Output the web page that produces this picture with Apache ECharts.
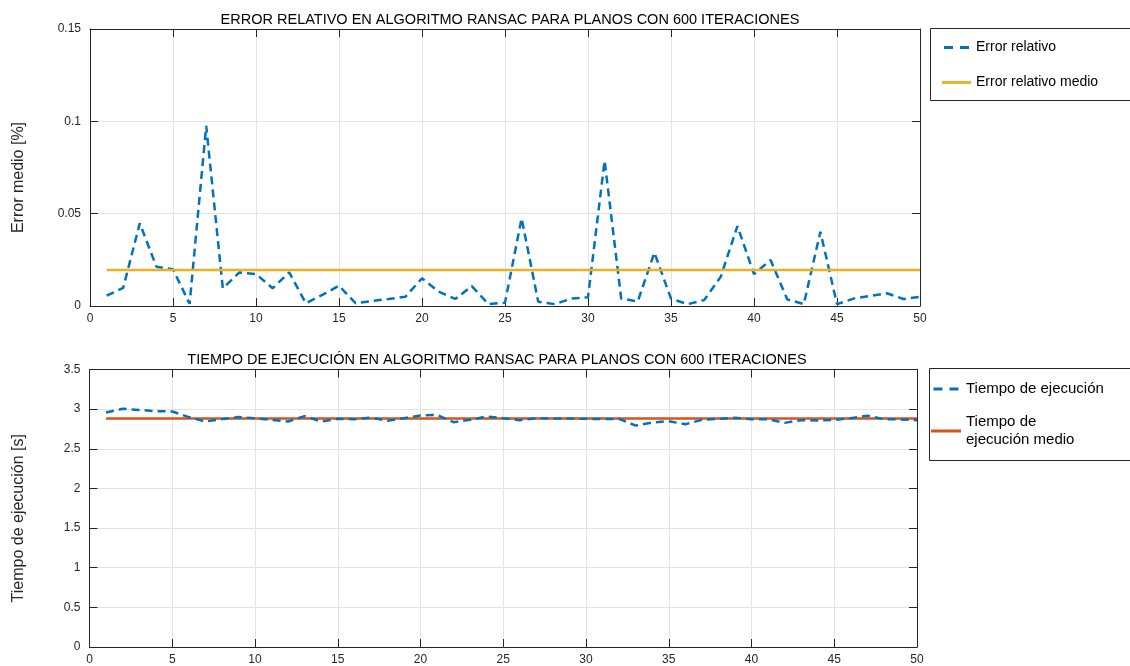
<!DOCTYPE html>
<html>
<head>
<meta charset="utf-8">
<script src="https://cdn.jsdelivr.net/npm/echarts@6/dist/echarts.min.js"></script>
<style>
html,body{margin:0;padding:0;background:#fff;}
#c{width:1130px;height:666px;}
</style>
</head>
<body>
<div id="c"></div>
<script>
// ---- data ----
const iterations = [1,2,3,4,5,6,7,8,9,10,11,12,13,14,15,16,17,18,19,20,21,22,23,24,25,26,27,28,29,30,31,32,33,34,35,36,37,38,39,40,41,42,43,44,45,46,47,48,49,50];
const errorRelativo = [0.0056,0.0098,0.0448,0.0213,0.0199,0.0012,0.0975,0.0096,0.0182,0.0173,0.0096,0.0182,0.0015,0.0060,0.0110,0.0015,0.0027,0.0038,0.0050,0.0150,0.0078,0.0038,0.0108,0.0010,0.0018,0.0475,0.0023,0.0010,0.0040,0.0047,0.0787,0.0040,0.0025,0.0289,0.0040,0.0010,0.0032,0.0159,0.0433,0.0173,0.0249,0.0036,0.0010,0.0402,0.0010,0.0040,0.0055,0.0069,0.0038,0.0050];
const errorMedio = 0.0195;
const tiempoEjecucion = [2.957,3.004,2.990,2.975,2.970,2.900,2.844,2.874,2.900,2.886,2.865,2.844,2.912,2.844,2.878,2.874,2.894,2.853,2.886,2.920,2.928,2.836,2.865,2.907,2.886,2.861,2.886,2.882,2.882,2.878,2.874,2.878,2.793,2.831,2.848,2.810,2.865,2.878,2.890,2.874,2.874,2.827,2.861,2.857,2.865,2.886,2.916,2.874,2.870,2.861];
const tiempoMedio = 2.882;
const xTicks = {min:0, max:50, interval:5};
const yTopTicks = {min:0, max:0.15, interval:0.05};
const yBotTicks = {min:0, max:3.5, interval:0.5};
const titles = ['ERROR RELATIVO EN ALGORITMO RANSAC PARA PLANOS CON 600 ITERACIONES','TIEMPO DE EJECUCIÓN EN ALGORITMO RANSAC PARA PLANOS CON 600 ITERACIONES'];
const yNames = ['Error medio [%]','Tiempo de ejecución [s]'];
const seriesNames = ['Error relativo','Error relativo medio','Tiempo de ejecución','Tiempo de ejecución medio'];

// ---- styles ----
const FONT = '"Liberation Sans", Arial, Helvetica, sans-serif';
const AX = '#262626';
const GRIDC = '#e3e3e3';
const BLUE = '#0072BD', YEL = '#EDB120', RED = '#D95319';
const ICON_DASH = 'path://M0,0h9v3h-9zM16,0h9v3h-9z';
const ICON_SOLID = 'path://M0,0h30v3h-30z';

function pairs(xs, ys){ return xs.map((x,i)=>[x, ys[i]]); }
function constLine(xs, v){ return [[xs[0], v],[xs[xs.length-1], v]]; }

function xAxisPair(gi){
  return [
    {type:'value', gridIndex:gi, position:'bottom', min:xTicks.min, max:xTicks.max, interval:xTicks.interval,
     axisLine:{show:true, lineStyle:{color:AX, width:1}},
     axisTick:{show:true, inside:true, length:8, lineStyle:{color:AX}},
     axisLabel:{show:true, color:AX, fontFamily:FONT, fontSize:12, margin:7},
     splitLine:{show:true, lineStyle:{color:GRIDC, width:1}}},
    {type:'value', gridIndex:gi, position:'top', min:xTicks.min, max:xTicks.max, interval:xTicks.interval,
     axisLine:{show:true, onZero:false, lineStyle:{color:AX, width:1}},
     axisTick:{show:true, inside:true, length:8, lineStyle:{color:AX}},
     axisLabel:{show:false}, splitLine:{show:false}}
  ];
}
function yAxisPair(gi, t, name, fmt){
  return [
    {type:'value', gridIndex:gi, position:'left', min:t.min, max:t.max, interval:t.interval,
     name:name, nameLocation:'middle', nameGap:63, nameRotate:90,
     nameTextStyle:{color:AX, fontFamily:FONT, fontSize:16, padding:[0,20,0,0]},
     axisLine:{show:true, onZero:false, lineStyle:{color:AX, width:1}},
     axisTick:{show:true, inside:true, length:8, lineStyle:{color:AX}},
     axisLabel:{show:true, color:AX, fontFamily:FONT, fontSize:12, margin:9, formatter:fmt},
     splitLine:{show:true, lineStyle:{color:GRIDC, width:1}}},
    {type:'value', gridIndex:gi, position:'right', min:t.min, max:t.max, interval:t.interval,
     axisLine:{show:true, onZero:false, lineStyle:{color:AX, width:1}},
     axisTick:{show:true, inside:true, length:8, lineStyle:{color:AX}},
     axisLabel:{show:false}, splitLine:{show:false}}
  ];
}
const fmtNum = v => String(+v.toFixed(3));

const chart = echarts.init(document.getElementById('c'), null, {renderer:'canvas'});
const option = {
  backgroundColor:'#fff',
  animation:false,
  title:[
    {text:titles[0], left:505, top:7, textAlign:'center',
     textStyle:{fontFamily:FONT, fontSize:14.5, fontWeight:'normal', color:'#000'}},
    {text:titles[1], left:492, top:347, textAlign:'center',
     textStyle:{fontFamily:FONT, fontSize:14.5, fontWeight:'normal', color:'#000'}}
  ],
  grid:[
    {left:90, top:29, width:830, height:277},
    {left:89.5, top:369.5, width:827.5, height:277.5}
  ],
  xAxis:[...xAxisPair(0), ...xAxisPair(1)],
  yAxis:[...yAxisPair(0, yTopTicks, yNames[0], fmtNum), ...yAxisPair(1, yBotTicks, yNames[1], fmtNum)],
  legend:[
    {orient:'vertical', left:937, top:34, itemWidth:29, itemHeight:3, itemGap:18,
     data:[{name:seriesNames[0], icon:ICON_DASH}, {name:seriesNames[1], icon:ICON_SOLID}],
     textStyle:{fontFamily:FONT, fontSize:14, color:'#000', lineHeight:17}},
    {orient:'vertical', left:926, top:375, itemWidth:30, itemHeight:3, itemGap:15,
     data:[{name:seriesNames[2], icon:ICON_DASH}, {name:seriesNames[3], icon:ICON_SOLID}],
     formatter: n => n === seriesNames[3] ? 'Tiempo de\nejecución medio' : n,
     textStyle:{fontFamily:FONT, fontSize:15, color:'#000', lineHeight:18}}
  ],
  graphic:[
    {type:'rect', shape:{x:930.5, y:28.5, width:220, height:72}, style:{fill:'none', stroke:'#262626', lineWidth:1}, z:-1},
    {type:'rect', shape:{x:929.5, y:368.5, width:220, height:92}, style:{fill:'none', stroke:'#262626', lineWidth:1}, z:-1}
  ],
  series:[
    {name:seriesNames[0], type:'line', xAxisIndex:0, yAxisIndex:0, data:pairs(iterations, errorRelativo),
     symbol:'none', lineStyle:{color:BLUE, width:2.5, type:[8,5]}, itemStyle:{color:BLUE}},
    {name:seriesNames[1], type:'line', xAxisIndex:0, yAxisIndex:0, data:constLine(iterations, errorMedio),
     symbol:'none', lineStyle:{color:YEL, width:2.5}, itemStyle:{color:YEL}},
    {name:seriesNames[2], type:'line', xAxisIndex:2, yAxisIndex:2, data:pairs(iterations, tiempoEjecucion),
     symbol:'none', z:3, lineStyle:{color:BLUE, width:2.5, type:[8,5]}, itemStyle:{color:BLUE}},
    {name:seriesNames[3], type:'line', xAxisIndex:2, yAxisIndex:2, data:constLine(iterations, tiempoMedio),
     symbol:'none', z:2, lineStyle:{color:RED, width:2.5}, itemStyle:{color:RED}}
  ]
};
chart.setOption(option);
</script>
</body>
</html>
